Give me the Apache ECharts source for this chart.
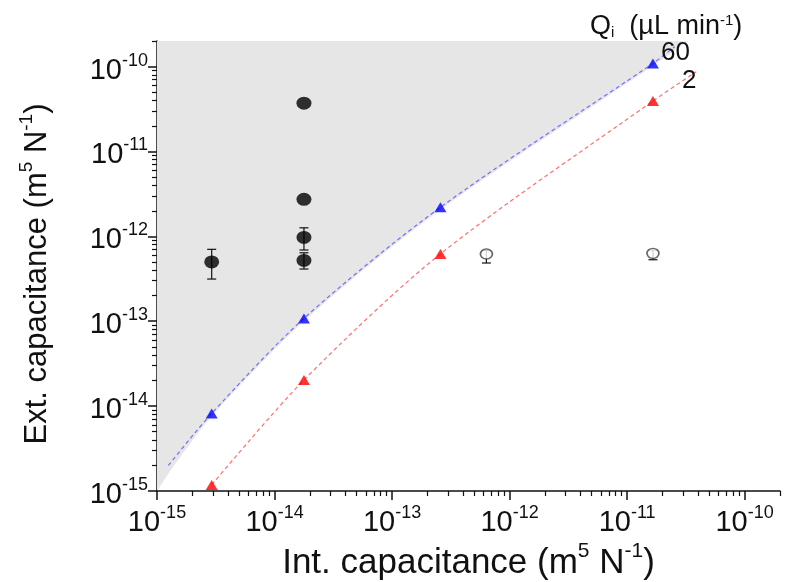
<!DOCTYPE html>
<html>
<head>
<meta charset="utf-8">
<script src="https://cdn.jsdelivr.net/npm/echarts@6/dist/echarts.min.js"></script>
<style>html,body{margin:0;padding:0;background:#fff}#c{width:785px;height:582px}</style>
</head>
<body>
<div id="c"></div>
<script>
// ---- data ----
const majorTicks = [1e-15, 1e-14, 1e-13, 1e-12, 1e-11, 1e-10];
const axisMin = 1e-15, axisMax = 2e-10;

// filled black circles with error bars
const circleX = [2.92e-15, 1.78e-14, 1.78e-14, 1.78e-14, 1.78e-14];
const circleY = [5.0e-13, 3.7e-11, 2.73e-12, 9.7e-13, 5.2e-13];
const circleLow = [3.14e-13, null, null, 6.9e-13, 4.12e-13];
const circleHigh = [7.03e-13, null, null, 1.26e-12, 6.4e-13];

// open circles with error bars
const openX = [6.35e-13, 1.66e-11];
const openY = [6.2e-13, 6.3e-13];
const openLow = [4.85e-13, 5.3e-13];
const openHigh = [6.8e-13, 6.9e-13];

// triangles (Qi = 60 blue, Qi = 2 red)
const triX = [2.92e-15, 1.78e-14, 2.58e-13, 1.66e-11];
const blueTriY = [8.2e-15, 1.08e-13, 2.2e-12, 1.09e-10];
const redTriY = [1.18e-15, 2.03e-14, 6.2e-13, 3.93e-11];

// dashed model curves
const blueCurveX = [1.25e-15, 2.92e-15, 1.78e-14, 2.58e-13, 1.66e-11, 2.54e-11];
const blueCurveY = [2.0e-15, 8.2e-15, 1.08e-13, 2.2e-12, 1.09e-10, 1.71e-10];
const redCurveX = [2.92e-15, 1.78e-14, 2.58e-13, 1.66e-11, 3.88e-11];
const redCurveY = [1.18e-15, 2.03e-14, 6.2e-13, 3.93e-11, 8.7e-11];

// lower boundary of grey region
const greyX = [1e-15, 1.37e-15, 2.92e-15, 1.78e-14, 2.58e-13, 1.66e-11, 3.3e-11];
const greyY = [1e-15, 1.92e-15, 7.6e-15, 1.0e-13, 2.05e-12, 1.02e-10, 2e-10];

const seriesLabels = ['60', '2'];

// ---- build ----
const FONT = 'Liberation Sans, Arial, sans-serif';
const minorTicks = [];
for (let e = -15; e <= -11; e++) for (let m = 2; m <= 9; m++) minorTicks.push(parseFloat(m + 'e' + e));
minorTicks.push(2e-10);

const zip = (a, b) => a.map((v, i) => [v, b[i]]);
const errData = (xs, lo, hi) => xs.map((x, i) => [x, lo[i], hi[i]]).filter(d => d[1] != null);

function fmt(v) {
  const e = Math.log10(v);
  if (Math.abs(e - Math.round(e)) > 1e-6) return '';
  return '{b|10}{s|' + Math.round(e) + '}';
}
const tickRich = {
  b: { fontSize: 29, fontFamily: FONT, color: '#111', lineHeight: 30, padding: [8, 0, 0, 0] },
  s: { fontSize: 18, fontFamily: FONT, color: '#111', lineHeight: 18, verticalAlign: 'top' }
};
const nameRich = {
  n: { fontSize: 35, fontFamily: FONT, color: '#111', lineHeight: 36, padding: [8, 0, 0, 0] },
  s: { fontSize: 21, fontFamily: FONT, color: '#111', lineHeight: 21, verticalAlign: 'top' }
};
const nameRichY = {
  n: { fontSize: 31, fontFamily: FONT, color: '#111', lineHeight: 32, padding: [8, 0, 0, 0] },
  s: { fontSize: 19, fontFamily: FONT, color: '#111', lineHeight: 19, verticalAlign: 'top' }
};

function mainAxis(isX) {
  return {
    type: 'log', logBase: 10, min: axisMin, max: axisMax,
    gridIndex: 0,
    position: isX ? 'bottom' : 'left',
    axisLine: { show: true, onZero: false, lineStyle: { color: '#111', width: 1.5 } },
    axisTick: { show: true, inside: false, length: 9, lineStyle: { color: '#111', width: 1.5 }, customValues: majorTicks },
    axisLabel: { show: true, customValues: majorTicks, formatter: fmt, rich: tickRich, margin: isX ? 13 : 9 },
    splitLine: { show: false },
    minorTick: { show: false },
    name: isX ? '{n|Int. capacitance (m}{s|5}{n| N}{s|-1}{n|)}' : '{n|Ext. capacitance (m}{s|5}{n| N}{s|-1}{n|)}',
    nameLocation: 'middle',
    nameMoveOverlap: false,
    nameGap: isX ? 50 : 108,
    nameTextStyle: isX ? { rich: nameRich } : { rich: nameRichY, padding: [0, 16, 0, 0] }
  };
}
function minorAxis(isX) {
  return {
    type: 'log', logBase: 10, min: axisMin, max: axisMax,
    gridIndex: 0,
    position: isX ? 'bottom' : 'left',
    axisLine: { show: false, onZero: false },
    axisTick: { show: true, inside: false, length: 5, lineStyle: { color: '#111', width: 1.2 }, customValues: minorTicks },
    axisLabel: { show: false },
    splitLine: { show: false }
  };
}

const option = {
  animation: false,
  backgroundColor: '#fff',
  grid: { left: 157, top: 41, right: 5, bottom: 91, containLabel: false, outerBoundsMode: 'none' },
  xAxis: [mainAxis(true), minorAxis(true)],
  yAxis: [mainAxis(false), minorAxis(false)],
  series: [
    {
      type: 'line', data: zip(greyX, greyY), smooth: 0.3, showSymbol: false, symbol: 'none',
      lineStyle: { width: 0, opacity: 0 }, areaStyle: { color: '#e6e6e6', opacity: 1, origin: 'end' },
      z: 1, silent: true
    },
    {
      type: 'line', data: zip(blueCurveX, blueCurveY), smooth: 0.3, symbol: 'none',
      lineStyle: { color: '#7070ff', width: 1.2, type: [4, 3] }, z: 3
    },
    {
      type: 'line', data: zip(redCurveX, redCurveY), smooth: 0.3, symbol: 'none',
      lineStyle: { color: '#ff7070', width: 1.2, type: [4, 3] }, z: 3
    },
    {
      type: 'custom', z: 4,
      data: errData(circleX, circleLow, circleHigh).concat(errData(openX, openLow, openHigh)),
      encode: { x: 0, y: [1, 2] },
      renderItem: function (params, api) {
        const x = api.value(0);
        const lo = api.coord([x, api.value(1)]);
        const hi = api.coord([x, api.value(2)]);
        const w = 4.5;
        const st = { stroke: '#111', lineWidth: 1.2 };
        return {
          type: 'group', children: [
            { type: 'line', shape: { x1: lo[0], y1: lo[1], x2: hi[0], y2: hi[1] }, style: st },
            { type: 'line', shape: { x1: lo[0] - w, y1: lo[1], x2: lo[0] + w, y2: lo[1] }, style: st },
            { type: 'line', shape: { x1: hi[0] - w, y1: hi[1], x2: hi[0] + w, y2: hi[1] }, style: st }
          ]
        };
      }
    },
    {
      type: 'scatter', data: zip(circleX, circleY), symbol: 'circle', symbolSize: [15, 13],
      itemStyle: { color: '#000' }, z: 5
    },
    {
      type: 'scatter', data: zip(openX, openY), symbol: 'circle', symbolSize: [12, 10],
      itemStyle: { color: '#fff', borderColor: '#444', borderWidth: 1.6 }, z: 5
    },
    {
      type: 'scatter', data: zip(triX, blueTriY), symbol: 'triangle', symbolSize: [12, 10],
      itemStyle: { color: '#0000ff' }, z: 6
    },
    {
      type: 'scatter', data: zip(triX, redTriY), symbol: 'triangle', symbolSize: [12, 10],
      itemStyle: { color: '#ff0000' }, z: 6
    }
  ],
  graphic: [
    {
      type: 'text', left: 590, top: 8, z: 10,
      style: {
        text: '{m|Q}{sub|i}{m|  (µL min}{sup|-1}{m|)}',
        rich: {
          m: { fontSize: 27, fontFamily: FONT, fill: '#111', lineHeight: 27, padding: [5, 0, 5, 0] },
          sub: { fontSize: 15, fontFamily: FONT, fill: '#111', lineHeight: 15, verticalAlign: 'bottom' },
          sup: { fontSize: 15, fontFamily: FONT, fill: '#111', lineHeight: 15, verticalAlign: 'top' }
        }
      }
    },
    {
      type: 'text', left: 661, top: 40, z: 10,
      style: { text: seriesLabels[0], fontSize: 26, fontFamily: FONT, fill: '#111' }
    },
    {
      type: 'text', left: 682, top: 68, z: 10,
      style: { text: seriesLabels[1], fontSize: 26, fontFamily: FONT, fill: '#111' }
    }
  ]
};
const chart = echarts.init(document.getElementById('c'), null, { renderer: 'canvas' });
chart.setOption(option);
</script>
</body>
</html>
